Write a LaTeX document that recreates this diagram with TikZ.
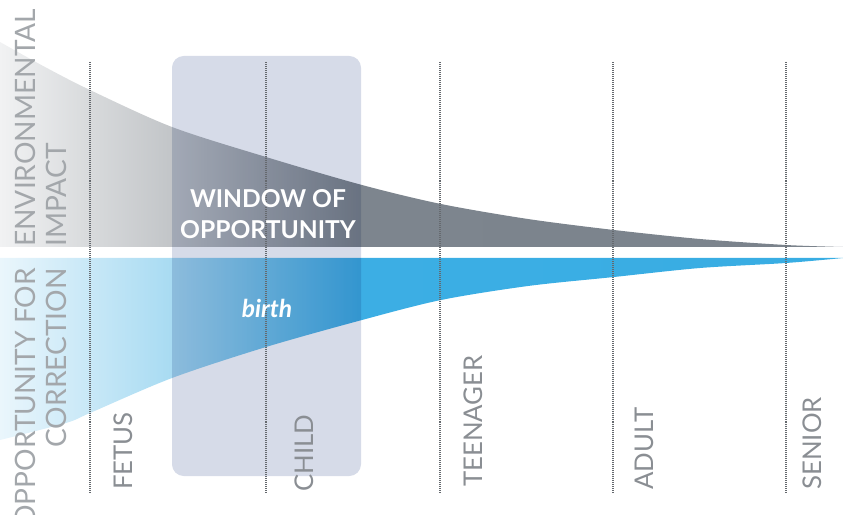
\documentclass[tikz,border=0pt]{standalone}
\usepackage{fontspec}
\setmainfont{Lato}
\usepackage{tikz}
\usetikzlibrary{positioning}

\definecolor{grayA}{HTML}{F1F2F3}
\definecolor{grayB}{HTML}{D8DADC}
\definecolor{grayC}{HTML}{C2C5C8}
\definecolor{grayD}{HTML}{7D858E}
\definecolor{grayE}{HTML}{7B838C}
\definecolor{blueA}{HTML}{EAF6FC}
\definecolor{blueB}{HTML}{C8E8F7}
\definecolor{blueC}{HTML}{A8DBF2}
\definecolor{blueD}{HTML}{3CAEE4}
\definecolor{blueE}{HTML}{38ADE3}
\definecolor{windowfill}{HTML}{D6DBE8}
\definecolor{divgray}{HTML}{65696E}
\definecolor{labelgray}{HTML}{8A8E93}
\definecolor{sidegray}{HTML}{A3A7AB}

\pgfdeclarehorizontalshading{graydecay}{100bp}{color(0bp)=(grayA); color(25bp)=(grayA); color(30.3bp)=(grayB); color(35.2bp)=(grayC); color(46.5bp)=(grayD); color(75bp)=(grayE); color(100bp)=(grayE)}
\pgfdeclarehorizontalshading{bluedecay}{100bp}{color(0bp)=(blueA); color(25bp)=(blueA); color(30.3bp)=(blueB); color(35.2bp)=(blueC); color(46.5bp)=(blueD); color(75bp)=(blueE); color(100bp)=(blueE)}

\tikzset{
	agelabel/.style={rotate=90, anchor=base west, inner sep=0pt, text=labelgray, font=\fontsize{22}{26}\selectfont},
	sidelabel/.style={rotate=90, inner sep=0pt, text=sidegray, font=\fontsize{24}{26.5}\selectfont},
	agedivide/.style={draw=divgray, line width=0.9pt, dash pattern=on 0.7pt off 1pt},
	windowbox/.style={fill=windowfill, rounded corners=10pt, blend mode=multiply},
	whitetext/.style={inner sep=0pt, text=white}
}

\begin{document}
\begin{tikzpicture}[x=0.03cm, y=-0.03cm]
		\useasboundingbox (0,0) rectangle (843,515);

		\shade[shading=graydecay] (0,247) -- plot[smooth] coordinates {(0,42) (45,67) (90,90) (172,127) (266,157) (362,185) (441,204) (528,219) (614,230) (700,239) (786,245) (843,247)} -- cycle;
		\shade[shading=bluedecay] (0,258) -- plot[smooth] coordinates {(0,440) (66,423) (90,413) (172,378) (266,347) (362,320) (441,300) (528,286) (614,277) (700,268) (786,263) (843,258)} -- cycle;

		\fill[windowbox] (172,56) rectangle (361,476);

		\foreach \x in {90,266,440,613,786}
			\draw[agedivide] (\x,62) -- (\x,493);

		\node[sidelabel, align=left, anchor=north west] (impact) at (15,247) {ENVIRONMENTAL\\IMPACT};
		\node[sidelabel, align=right, anchor=north east] (correction) at (15,268) {OPPORTUNITY FOR\\CORRECTION};

		\node[whitetext, align=center, font=\fontsize{21}{26.5}\selectfont\bfseries] (window) at (268,214) {WINDOW OF\\OPPORTUNITY};
		\node[whitetext, font=\fontsize{21}{24}\selectfont\bfseries\itshape] (birth) at (267,308) {birth};

		\node[agelabel] (fetus) at (132,490) {FETUS};
		\node[agelabel] (child) at (313,492) {CHILD};
		\node[agelabel] (teenager) at (482,487) {TEENAGER};
		\node[agelabel] (adult) at (653,490) {ADULT};
		\node[agelabel] (senior) at (821,490) {SENIOR};
	\end{tikzpicture}
\end{document}
